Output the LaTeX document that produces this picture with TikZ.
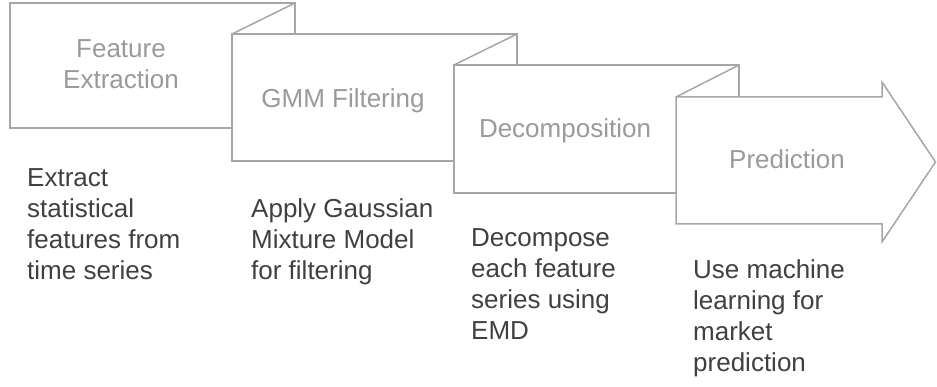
\documentclass[tikz,border=0pt]{standalone}
\usepackage{fontspec}
\setmainfont{Liberation Sans}
\definecolor{boxline}{HTML}{A6A6A6}
\definecolor{boxtext}{HTML}{9A9A9A}
\definecolor{desctext}{HTML}{404040}
\begin{document}
\begin{tikzpicture}[x=1pt,y=-1pt,
  box/.style={draw=boxline, line width=1.5pt, fill=white, line join=miter},
  fold/.style={draw=boxline, line width=1.5pt},
  lbl/.style={text=boxtext, inner sep=0pt, font=\fontsize{26}{31}\selectfont, anchor=base},
  desc/.style={text=desctext, inner sep=0pt, font=\fontsize{26}{31}\selectfont, anchor=base west}]
\useasboundingbox (0,0) rectangle (937,387);
% stage shapes
\draw[box] (10,3) rectangle (295,128);
\draw[box] (232,34) rectangle (517,161);
\draw[fold] (232,34) -- (295,3);
\draw[box] (454,65) rectangle (739,193);
\draw[fold] (454,65) -- (517,34);
\draw[box] (676,97) -- (882,97) -- (882,82) -- (935.5,162) -- (882,242) -- (882,224) -- (676,224) -- cycle;
\draw[fold] (676,97) -- (739,65);
% stage labels
\node[lbl] (l1) at (121,57.5) {\begin{tabular}[t]{@{}c@{}}Feature\\Extraction\end{tabular}};
\node[lbl] (l2) at (343,107.5) {GMM Filtering};
\node[lbl] (l3) at (565,137.5) {Decomposition};
\node[lbl] (l4) at (787,169) {Prediction};
% descriptions
\node[desc] (d1) at (27,187) {\begin{tabular}[t]{@{}l@{}}Extract\\statistical\\features from\\time series\end{tabular}};
\node[desc] (d2) at (251,217.5) {\begin{tabular}[t]{@{}l@{}}Apply Gaussian\\Mixture Model\\for filtering\end{tabular}};
\node[desc] (d3) at (471,247) {\begin{tabular}[t]{@{}l@{}}Decompose\\each feature\\series using\\EMD\end{tabular}};
\node[desc] (d4) at (693,279) {\begin{tabular}[t]{@{}l@{}}Use machine\\learning for\\market\\prediction\end{tabular}};
\end{tikzpicture}
\end{document}
